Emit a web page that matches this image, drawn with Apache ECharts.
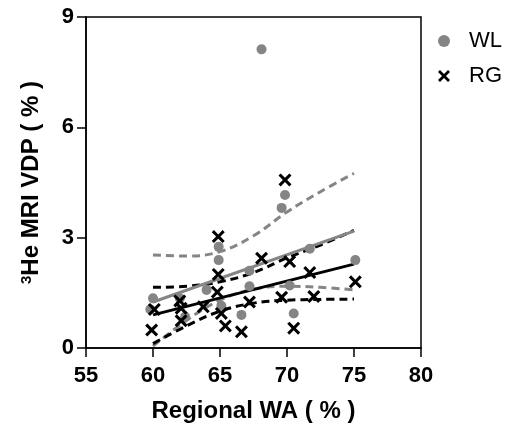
<!DOCTYPE html>
<html>
<head>
<meta charset="utf-8">
<script src="https://cdn.jsdelivr.net/npm/echarts@6/dist/echarts.min.js"></script>
<style>
  html, body { margin: 0; padding: 0; background: #fff; }
  #chart { width: 517px; height: 430px; }
</style>
</head>
<body>
<div id="chart"></div>
<script>
// WL points (gray dots): [Regional WA, VDP]
const wlPoints = [
  [60.0, 1.35], [59.8, 1.05], [62.0, 1.35], [62.4, 0.85], [64.0, 1.58],
  [64.9, 2.75], [64.9, 2.39], [65.1, 1.15], [66.6, 0.9], [67.2, 2.1],
  [67.2, 1.68], [68.1, 8.12], [69.6, 3.81], [69.85, 4.16], [70.2, 1.7],
  [70.5, 0.94], [71.7, 2.7], [75.1, 2.39]
];
// RG points (black crosses)
const rgPoints = [
  [59.9, 0.49], [60.1, 1.05], [62.0, 1.28], [62.1, 1.08], [62.1, 0.74],
  [63.75, 1.12], [64.87, 3.03], [64.87, 2.0], [64.8, 1.52], [65.1, 0.94],
  [65.4, 0.6], [66.6, 0.44], [67.2, 1.25], [68.1, 2.44], [69.85, 4.57],
  [70.2, 2.35], [69.6, 1.38], [70.5, 0.54], [71.7, 2.05], [72.0, 1.4],
  [75.1, 1.8]
];
// fitted lines and 95% bands
const fitX = [60, 75];
const wlFit = [1.25, 3.18];
const rgFit = [0.9, 2.28];
const bandX = [60, 62.5, 65, 67.5, 70, 72.5, 75];
const wlUpper = [2.53, 2.5, 2.62, 3.05, 3.7, 4.25, 4.75];
const wlLower = [0.05, 0.75, 1.3, 1.6, 1.68, 1.65, 1.58];
const rgUpper = [1.65, 1.68, 1.8, 2.05, 2.45, 2.8, 3.2];
const rgLower = [0.12, 0.6, 1.0, 1.22, 1.3, 1.32, 1.33];

const xTicks = [55, 60, 65, 70, 75, 80];
const yTicks = [0, 3, 6, 9];

const GRAY = '#858585';
const FONT = 'Liberation Sans, Arial, sans-serif';
const crossPath = 'path://M0,2 L2,0 L6,4 L10,0 L12,2 L8,6 L12,10 L10,12 L6,8 L2,12 L0,10 L4,6 Z';

const zip = (xs, ys) => xs.map((x, i) => [x, ys[i]]);

const chart = echarts.init(document.getElementById('chart'));

function lineSeries(name, xs, ys, color, dashed) {
  return {
    name: name,
    type: 'line',
    data: zip(xs, ys),
    smooth: dashed ? 0.4 : false,
    symbol: 'none',
    silent: true,
    z: 1,
    lineStyle: { color: color, width: 3, type: dashed ? [8, 5] : 'solid' }
  };
}

const option = {
  animation: false,
  backgroundColor: '#fff',
  grid: {
    left: 86, right: 96, top: 17, bottom: 82,
    show: true, borderColor: '#000', borderWidth: 1.5, backgroundColor: 'transparent'
  },
  legend: {
    data: [
      { name: 'WL', icon: 'circle' },
      { name: 'RG', icon: crossPath }
    ],
    orient: 'vertical',
    left: 433, top: 25,
    itemWidth: 12, itemHeight: 12, itemGap: 13,
    textStyle: { fontFamily: FONT, fontSize: 22, color: '#000', padding: [0, 0, 0, 14] }
  },
  xAxis: {
    type: 'value', min: 55, max: 80, interval: 5,
    name: 'Regional WA ( % )', nameLocation: 'middle', nameGap: 51,
    nameTextStyle: { fontFamily: FONT, fontSize: 24, fontWeight: 'bold', color: '#000' },
    axisLine: { lineStyle: { color: '#000', width: 1.5 } },
    axisTick: { show: true, length: 9, lineStyle: { color: '#000', width: 1.5 } },
    axisLabel: {
      fontFamily: FONT, fontSize: 22, fontWeight: 'bold', color: '#000', margin: 17,
      formatter: v => xTicks.includes(v) ? String(v) : ''
    },
    splitLine: { show: false }
  },
  yAxis: {
    type: 'value', min: 0, max: 9, interval: 3,
    name: '{sup|3}He MRI VDP ( % )', nameLocation: 'middle', nameGap: 42, nameRotate: 90,
    nameTextStyle: {
      fontFamily: FONT, fontSize: 24, fontWeight: 'bold', color: '#000',
      rich: { sup: { fontFamily: FONT, fontSize: 15, fontWeight: 'bold', color: '#000', verticalAlign: 'top', padding: [0, 0, 10, 0] } }
    },
    axisLine: { lineStyle: { color: '#000', width: 1.5 } },
    axisTick: { show: true, length: 9, lineStyle: { color: '#000', width: 1.5 } },
    axisLabel: {
      fontFamily: FONT, fontSize: 22, fontWeight: 'bold', color: '#000', margin: 12,
      formatter: v => yTicks.includes(v) ? String(v) : ''
    },
    splitLine: { show: false }
  },
  series: [
    lineSeries('wlUpper', bandX, wlUpper, GRAY, true),
    lineSeries('wlLower', bandX, wlLower, GRAY, true),
    lineSeries('rgUpper', bandX, rgUpper, '#000', true),
    lineSeries('rgLower', bandX, rgLower, '#000', true),
    lineSeries('wlFit', fitX, wlFit, GRAY, false),
    lineSeries('rgFit', fitX, rgFit, '#000', false),
    {
      name: 'WL', type: 'scatter', data: wlPoints,
      symbol: 'circle', symbolSize: 10, z: 2,
      itemStyle: { color: GRAY, opacity: 1 }
    },
    {
      name: 'RG', type: 'scatter', data: rgPoints,
      symbol: crossPath, symbolSize: 13, z: 3,
      itemStyle: { color: '#000', opacity: 1 }
    }
  ]
};

chart.setOption(option);
</script>
</body>
</html>
